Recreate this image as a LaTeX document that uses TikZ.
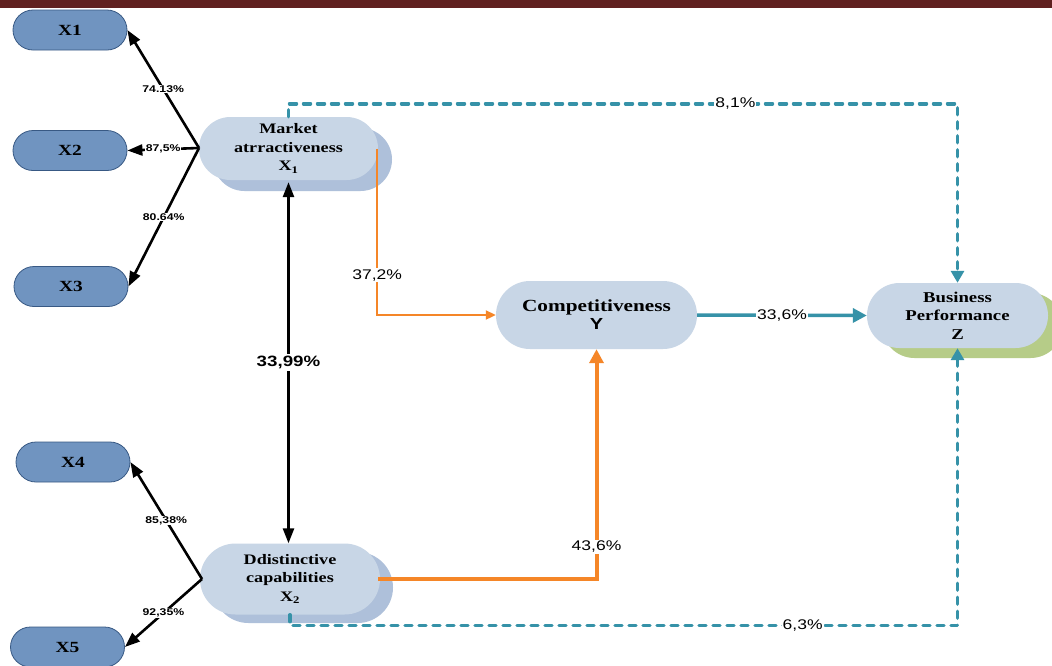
\documentclass[tikz,border=0pt]{standalone}
\usepackage{fontspec}
\setmainfont{Liberation Serif}[FakeStretch=1.25]
\setsansfont{Liberation Sans}[FakeStretch=1.25]
\usetikzlibrary{arrows.meta,shapes.misc,calc}
\definecolor{barc}{RGB}{96,33,32}
\definecolor{smallfill}{RGB}{112,148,192}
\definecolor{smallborder}{RGB}{56,89,132}
\definecolor{bigfill}{RGB}{200,214,230}
\definecolor{shadowc}{RGB}{174,192,218}
\definecolor{greenc}{RGB}{182,204,136}
\definecolor{orangec}{RGB}{245,134,40}
\definecolor{tealc}{RGB}{54,146,168}
\begin{document}
\begin{tikzpicture}[x=1pt,y=-1pt,
  smallbox/.style={rounded rectangle, draw=smallborder, line width=0.8pt, fill=smallfill,
    minimum width=114pt, minimum height=40pt, inner sep=0pt,
    font=\bfseries\fontsize{15.5}{18}\selectfont},
  bigbox/.style={rounded rectangle, fill=bigfill, inner sep=0pt, align=center},
  shadowbox/.style={rounded rectangle, fill=shadowc, inner sep=0pt},
  blk/.style={line width=2.6pt, -{Triangle[length=15pt,width=11pt]}},
  slbl/.style={fill=white, inner sep=0.5pt, font=\sffamily\bfseries\fontsize{9.8}{11}\selectfont},
  lbl/.style={fill=white, text=black, inner sep=1pt, font=\sffamily\fontsize{14}{16}\selectfont},
  orthin/.style={draw=orangec, line width=2pt, -{Triangle[length=10pt,width=9pt]}},
  orthick/.style={draw=orangec, line width=4pt, -{Triangle[length=14pt,width=14pt]}},
  tealline/.style={draw=tealc, line width=3.5pt, -{Triangle[length=14pt,width=14pt]}},
  tealdash/.style={draw=tealc, line width=3.4pt, line cap=round, line join=round,
    dash pattern=on 7pt off 7pt, -{Triangle[length=12pt,width=13pt]}}
]
\clip (0,0) rectangle (1052,665);
\fill[white] (0,0) rectangle (1052,665);
\fill[barc] (0,0) rectangle (1052,8);

% shadows
\node[shadowbox, minimum width=179pt, minimum height=63pt] (mktS) at (302.5,159.5) {};
\node[shadowbox, minimum width=180pt, minimum height=71pt] (dcS) at (303,587.5) {};
\node[rounded rectangle, fill=greenc, inner sep=0pt, minimum width=181pt, minimum height=65pt] (bpS) at (972.5,325.5) {};

% main nodes
\node[bigbox, minimum width=179pt, minimum height=63pt,
  font=\bfseries\fontsize{14.5}{18.5}\selectfont] (mkt) at (288.5,148.5)
  {Market\\atrractiveness\\X\textsubscript{1}};
\node[bigbox, minimum width=180pt, minimum height=71pt,
  font=\bfseries\fontsize{14.5}{18.5}\selectfont] (dc) at (290,579)
  {Ddistinctive\\capabilities\\X\textsubscript{2}};
\node[bigbox, minimum width=201pt, minimum height=68pt,
  font=\bfseries\fontsize{17}{18}\selectfont] (comp) at (596.5,315)
  {Competitiveness\\{\sffamily\fontsize{16}{18}\selectfont Y}};
\node[bigbox, minimum width=181pt, minimum height=65pt,
  font=\bfseries\fontsize{15}{18.5}\selectfont] (bp) at (957.5,315.5)
  {Business\\Performance\\Z};

% indicator nodes
\node[smallbox] (x1) at (70,30) {X1};
\node[smallbox] (x2) at (70,150.5) {X2};
\node[smallbox] (x3) at (71,286.5) {X3};
\node[smallbox] (x4) at (73,462) {X4};
\node[smallbox] (x5) at (67.5,647) {X5};

\coordinate (hA) at (199,148);
\coordinate (hB) at (202,579);
\draw[blk] (hA) -- node[slbl]{74.13\%} (x1.east);
\draw[blk] (hA) -- node[slbl]{87,5\%} (x2.east);
\draw[blk] (hA) -- node[slbl]{80.64\%} (x3.east);
\draw[blk] (hB) -- node[slbl]{85,38\%} (x4.east);
\draw[blk] (hB) -- node[slbl]{92,35\%} (x5.east);

% correlation
\draw[line width=2.6pt, {Triangle[length=15pt,width=11pt]}-{Triangle[length=15pt,width=11pt]}]
  ($(mkt.south)+(0,2)$) -- node[fill=white, inner sep=2pt,
  font=\sffamily\bfseries\fontsize{15}{17}\selectfont]{33,99\%} ($(mkt.south |- dc.north)$);

% orange paths
\draw[orthin] ($(mkt.east)+(-1,0)$) |- node[lbl, pos=0.38]{37,2\%} (comp.west);
\draw[orthick] ($(dc.east)+(-2,0)$) -| node[lbl, pos=0.57]{43,6\%} (comp.south);

% teal
\draw[tealline] (comp.east) -- node[lbl]{33,6\%} (bp.west);
\coordinate (tA) at ($(mkt.north)+(0,-13)$);
\coordinate (tB) at ($(dc.south)+(0,11)$);
\draw[tealdash] (mkt.north) -- (tA) -| node[lbl, pos=0.334]{8,1\%} (bp.north);
\draw[tealdash] (dc.south) -- (tB) -| node[lbl, pos=0.384]{6,3\%} (bp.south);
\end{tikzpicture}
\end{document}
